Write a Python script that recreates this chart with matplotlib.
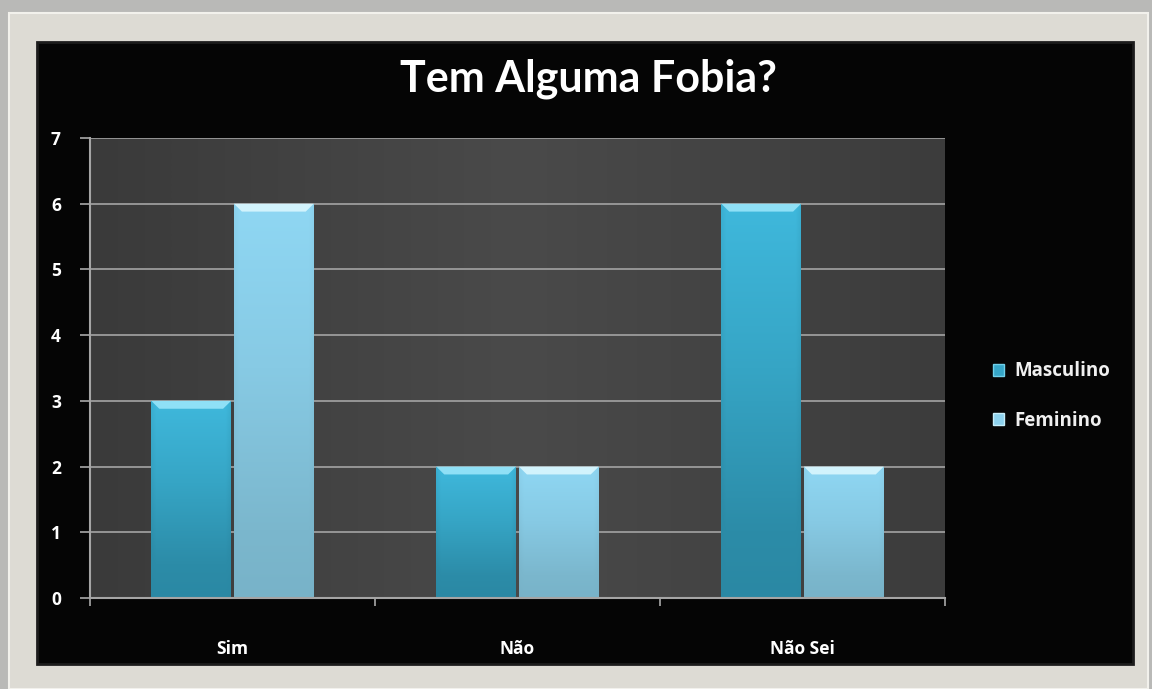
import numpy as np
import matplotlib
matplotlib.use("Agg")
import matplotlib.pyplot as plt
from matplotlib.patches import Rectangle, Polygon, Patch
from matplotlib.colors import LinearSegmentedColormap

categories = ["Sim", "Não", "Não Sei"]
series_names = ["Masculino", "Feminino"]
masculino = [3, 2, 6]
feminino = [6, 2, 2]
yticks = [0, 1, 2, 3, 4, 5, 6, 7]
title = "Tem Alguma Fobia?"

plt.rcParams['font.family'] = ['Lato', 'DejaVu Sans']

W, H = 1152, 689
fig = plt.figure(figsize=(W / 100, H / 100), dpi=100)
fig.patch.set_facecolor('#b9b9b7')

def fx(px):
    return px / W

def fy(py):
    return 1 - py / H

# beige frame
fig.patches.append(Rectangle((fx(9), 0), fx(1148) - fx(9), fy(13), transform=fig.transFigure,
                             facecolor='#dddbd4', edgecolor='#f2f1ec', lw=1.5, zorder=-3))
# black panel
fig.patches.append(Rectangle((fx(37), fy(664)), fx(1133) - fx(37), fy(42) - fy(664),
                             transform=fig.transFigure, facecolor='#050505',
                             edgecolor='#1c1c1c', lw=2, zorder=-2))

ax = fig.add_axes([fx(90), fy(598), fx(945) - fx(90), fy(138) - fy(598)])
ax.set_facecolor('none')
ax.set_xlim(-0.5, 2.5)
ax.set_ylim(0, 7)

# plot-area gradient background
grad = np.linspace(0, 1, 256).reshape(1, -1)
bg_cmap = LinearSegmentedColormap.from_list('bg', ['#3a3a3a', '#4a4a4a', '#3c3c3c'])
ax.imshow(grad, extent=(-0.5, 2.5, 0, 7), aspect='auto', cmap=bg_cmap, zorder=0,
          interpolation='bicubic')

# gridlines
for y in yticks[1:]:
    ax.axhline(y, color='#9c9c9c', lw=1.3, zorder=1)

x = np.arange(len(categories))
bw = 0.28
off = 0.145
series = [masculino, feminino]
cmaps = [
    LinearSegmentedColormap.from_list('m', ['#28839e', '#2c8ca8', '#36a5c5', '#3fb8dc']),
    LinearSegmentedColormap.from_list('f', ['#74adc2', '#7bb7cd', '#87cae4', '#8fd7f3']),
]
tops = ['#8fe0f6', '#d2f3fc']
for i, vals in enumerate(series):
    bars = ax.bar(x + (i * 2 - 1) * off, vals, width=bw, color='none', edgecolor='none', zorder=2)
    for b in bars:
        x0, y0 = b.get_x(), b.get_y()
        w, h = b.get_width(), b.get_height()
        hx = np.linspace(0, 1, 64)
        vy = np.linspace(0, 1, 64)
        edge = np.clip(np.minimum(hx, 1 - hx) / 0.06, 0, 1)
        Z = (0.2 + 0.8 * vy[:, None]) * (0.85 + 0.15 * edge[None, :])
        im = ax.imshow(Z, extent=(x0, x0 + w, y0, y0 + h), origin='lower', aspect='auto',
                       cmap=cmaps[i], vmin=0, vmax=1, zorder=2, interpolation='bilinear')
        im.set_clip_path(b)
        bev = 0.12
        bx = 0.028
        ax.add_patch(Polygon([(x0, y0 + h), (x0 + w, y0 + h), (x0 + w - bx, y0 + h - bev),
                              (x0 + bx, y0 + h - bev)], closed=True, facecolor=tops[i],
                             edgecolor='none', zorder=3))

tick_font = {'family': 'Open Sans', 'weight': 'bold'}
ax.set_xticks([-0.5, 0.5, 1.5, 2.5], minor=False)
ax.set_xticklabels([])
ax.set_xticks(x, minor=True)
ax.set_xticklabels(categories, minor=True, fontdict=tick_font)
ax.tick_params(axis='x', which='major', length=6, color='#9c9c9c', width=1.3, direction='out')
ax.tick_params(axis='x', which='minor', length=0, pad=30, labelcolor='white', labelsize=12.5)

ax.set_yticks(yticks)
ax.set_yticklabels([str(v) for v in yticks], fontdict=tick_font)
ax.tick_params(axis='y', length=7, color='#9c9c9c', width=1.3, direction='out', pad=14,
               labelcolor='white', labelsize=12.5)

for s in ['top', 'right']:
    ax.spines[s].set_visible(False)
for s in ['left', 'bottom']:
    ax.spines[s].set_color('#a5a5a5')
    ax.spines[s].set_linewidth(1.5)

fig.text(fx(588), fy(79), title, color='white', fontsize=31, fontweight='bold',
         ha='center', va='center')

handles = [Patch(facecolor='#36a6c8', edgecolor='#6fd0ea'),
           Patch(facecolor='#8dd2ee', edgecolor='#c6eefa')]
leg = fig.legend(handles, series_names, loc='center left',
                 bbox_to_anchor=(fx(976), fy(396)), frameon=False,
                 prop={'family': 'Open Sans', 'weight': 'bold', 'size': 13.5},
                 handlelength=0.6, handleheight=0.6, handletextpad=0.55, labelspacing=1.55)
for t in leg.get_texts():
    t.set_color('#f0f0f0')

fig.savefig('out.png', dpi=100, facecolor=fig.get_facecolor())
